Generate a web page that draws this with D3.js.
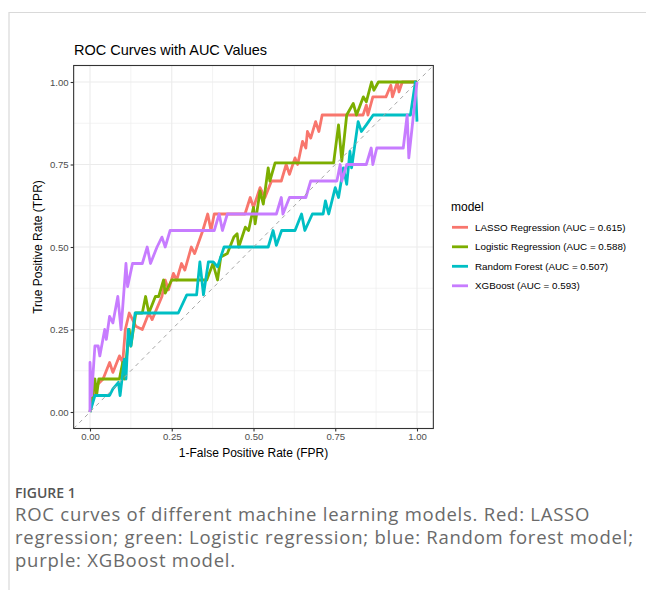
<!DOCTYPE html>
<html>
<head>
<meta charset="utf-8">
<script src="https://cdn.jsdelivr.net/npm/d3@7"></script>
<style>
body { margin: 0; background: #fff; }
svg { display: block; }
</style>
</head>
<body>
<div id="chart"></div>
<script>
// legend labels and colours (ggplot default hues)
var models = ["LASSO Regression (AUC = 0.615)", "Logistic Regression (AUC = 0.588)",
              "Random Forest (AUC = 0.507)", "XGBoost (AUC = 0.593)"];
var colors = ["#F8766D", "#7CAE00", "#00BFC4", "#C77CFF"];

var ticks = [0, 0.25, 0.5, 0.75, 1];
var minorTicks = [0.125, 0.375, 0.625, 0.875];

// [fpr, tpr] points, in plotting order
var lasso = [[0,0],[0.02,0.08],[0.04,0.1],[0.06,0.15],[0.07,0.12],[0.09,0.17],[0.1,0.15],[0.108,0.25],
  [0.12,0.3],[0.14,0.26],[0.16,0.25],[0.18,0.3],[0.19,0.28],[0.22,0.35],[0.23,0.4],[0.24,0.37],
  [0.255,0.42],[0.265,0.4],[0.28,0.45],[0.29,0.43],[0.31,0.5],[0.32,0.48],[0.345,0.55],[0.36,0.6],
  [0.37,0.55],[0.38,0.6],[0.474,0.6],[0.49,0.65],[0.5,0.62],[0.52,0.68],[0.535,0.65],[0.555,0.7],
  [0.585,0.7],[0.6,0.75],[0.61,0.72],[0.627,0.77],[0.635,0.75],[0.65,0.82],[0.66,0.8],[0.665,0.85],
  [0.675,0.83],[0.69,0.88],[0.7,0.85],[0.71,0.9],[0.835,0.9],[0.845,0.93],[0.85,0.9],[0.865,0.955],
  [0.905,0.955],[0.92,0.99],[0.925,0.955],[0.94,1],[0.945,0.97],[0.955,1],[1,1]];

var logistic = [[0,0],[0.015,0.1],[0.02,0.05],[0.027,0.1],[0.09,0.1],[0.1,0.15],[0.105,0.1],
  [0.12,0.25],[0.125,0.2],[0.14,0.3],[0.16,0.3],[0.17,0.35],[0.18,0.3],[0.2,0.35],[0.21,0.35],
  [0.225,0.4],[0.23,0.36],[0.25,0.4],[0.357,0.4],[0.376,0.45],[0.39,0.4],[0.4,0.47],[0.42,0.48],
  [0.44,0.53],[0.45,0.54],[0.455,0.5],[0.475,0.56],[0.485,0.55],[0.5,0.62],[0.505,0.57],
  [0.52,0.67],[0.53,0.63],[0.545,0.74],[0.55,0.7],[0.566,0.755],[0.745,0.755],[0.76,0.87],
  [0.77,0.76],[0.785,0.9],[0.805,0.935],[0.815,0.9],[0.836,0.955],[0.845,0.94],[0.861,1],
  [0.868,0.975],[0.882,1],[1,1]];

var forest = [[0,0],[0.015,0.05],[0.06,0.05],[0.07,0.07],[0.087,0.09],[0.092,0.05],[0.105,0.16],
  [0.11,0.1],[0.117,0.25],[0.125,0.2],[0.138,0.3],[0.27,0.3],[0.296,0.355],[0.326,0.355],
  [0.336,0.455],[0.347,0.355],[0.362,0.455],[0.377,0.455],[0.39,0.44],[0.41,0.5],[0.545,0.5],
  [0.56,0.55],[0.57,0.505],[0.586,0.55],[0.627,0.55],[0.647,0.6],[0.657,0.55],[0.68,0.6],
  [0.713,0.6],[0.72,0.64],[0.73,0.6],[0.75,0.68],[0.76,0.65],[0.775,0.74],[0.785,0.69],
  [0.795,0.79],[0.8,0.74],[0.82,0.88],[0.83,0.85],[0.845,0.87],[0.866,0.9],[0.98,0.9],
  [0.995,1],[1,0.88]];

var xgboost = [[0,0],[0,0.15],[0.005,0.05],[0.015,0.2],[0.025,0.2],[0.03,0.17],[0.045,0.25],
  [0.05,0.22],[0.06,0.29],[0.07,0.27],[0.085,0.35],[0.095,0.25],[0.11,0.45],[0.115,0.38],
  [0.13,0.45],[0.16,0.45],[0.175,0.5],[0.185,0.45],[0.205,0.5],[0.22,0.53],[0.23,0.5],
  [0.245,0.55],[0.38,0.55],[0.395,0.6],[0.405,0.55],[0.42,0.6],[0.57,0.6],[0.585,0.65],
  [0.59,0.6],[0.61,0.65],[0.66,0.65],[0.675,0.7],[0.755,0.7],[0.765,0.75],[0.77,0.7],
  [0.785,0.75],[0.845,0.75],[0.86,0.8],[0.865,0.75],[0.877,0.8],[0.958,0.8],[0.97,0.9],
  [0.975,0.77],[1,1]];

var curves = [lasso, logistic, forest, xgboost];

var width = 646, height = 590;
var svg = d3.select("#chart").append("svg")
    .attr("width", width)
    .attr("height", height)
    .style("font-family", "'Liberation Sans', Arial, sans-serif");

svg.append("rect").attr("width", width).attr("height", height).attr("fill", "#fff");

// card border
svg.append("path")
    .attr("d", "M9,590 V12.5 H646")
    .attr("fill", "none")
    .attr("stroke", "#d9d9d9")
    .attr("stroke-width", 1.2);

var x = d3.scaleLinear().domain([-0.05, 1.05]).range([73.65, 433.35]);
var y = d3.scaleLinear().domain([-0.05, 1.05]).range([428.5, 65.5]);

var panel = svg.append("g");

// grid
panel.selectAll(".minx").data(minorTicks).enter().append("line")
    .attr("x1", function(d) { return x(d); }).attr("x2", function(d) { return x(d); })
    .attr("y1", y(-0.05)).attr("y2", y(1.05))
    .attr("stroke", "#ebebeb").attr("stroke-width", 0.6);
panel.selectAll(".miny").data(minorTicks).enter().append("line")
    .attr("y1", function(d) { return y(d); }).attr("y2", function(d) { return y(d); })
    .attr("x1", x(-0.05)).attr("x2", x(1.05))
    .attr("stroke", "#ebebeb").attr("stroke-width", 0.6);
panel.selectAll(".majx").data(ticks).enter().append("line")
    .attr("x1", function(d) { return x(d); }).attr("x2", function(d) { return x(d); })
    .attr("y1", y(-0.05)).attr("y2", y(1.05))
    .attr("stroke", "#ebebeb").attr("stroke-width", 1.1);
panel.selectAll(".majy").data(ticks).enter().append("line")
    .attr("y1", function(d) { return y(d); }).attr("y2", function(d) { return y(d); })
    .attr("x1", x(-0.05)).attr("x2", x(1.05))
    .attr("stroke", "#ebebeb").attr("stroke-width", 1.1);

var line = d3.line()
    .x(function(d) { return x(d[0]); })
    .y(function(d) { return y(d[1]); });

panel.selectAll(".curve").data(curves).enter().append("path")
    .attr("d", line)
    .attr("fill", "none")
    .attr("stroke", function(d, i) { return colors[i]; })
    .attr("stroke-width", 2.8)
    .attr("stroke-linejoin", "round");

// reference diagonal
panel.append("path")
    .attr("d", line([[-0.05, -0.05], [1.05, 1.05]]))
    .attr("fill", "none")
    .attr("stroke", "#a6a6a6")
    .attr("stroke-width", 1)
    .attr("stroke-dasharray", "4,4");

panel.append("rect")
    .attr("x", x(-0.05)).attr("y", y(1.05))
    .attr("width", x(1.05) - x(-0.05)).attr("height", y(-0.05) - y(1.05))
    .attr("fill", "none").attr("stroke", "#333").attr("stroke-width", 1.1);

// axes
var fmt = d3.format(".2f");
var yAxis = svg.append("g")
    .attr("transform", "translate(" + x(-0.05) + ",0)")
    .call(d3.axisLeft(y).tickValues(ticks).tickFormat(fmt).tickSize(3).tickPadding(2));
var xAxis = svg.append("g")
    .attr("transform", "translate(0," + y(-0.05) + ")")
    .call(d3.axisBottom(x).tickValues(ticks).tickFormat(fmt).tickSize(3).tickPadding(2));
[xAxis, yAxis].forEach(function(a) {
    a.select(".domain").remove();
    a.selectAll(".tick line").attr("stroke", "#333").attr("stroke-width", 1.1);
    a.selectAll(".tick text").attr("fill", "#4d4d4d")
        .style("font-size", "9.6px").style("font-family", "'Liberation Sans', Arial, sans-serif");
});

svg.append("text")
    .attr("x", 74).attr("y", 55)
    .style("font-size", "14.5px")
    .text("ROC Curves with AUC Values");

svg.append("text")
    .attr("x", 253.5).attr("y", 457)
    .attr("text-anchor", "middle")
    .style("font-size", "12px")
    .text("1-False Positive Rate (FPR)");

svg.append("text")
    .attr("transform", "translate(42,247) rotate(-90)")
    .attr("text-anchor", "middle")
    .style("font-size", "12px")
    .text("True Positive Rate (TPR)");

// legend
var legend = svg.append("g");
legend.append("text")
    .attr("x", 451).attr("y", 211)
    .style("font-size", "12px")
    .text("model");
var item = legend.selectAll(".item").data(models).enter().append("g")
    .attr("transform", function(d, i) { return "translate(0," + (227.3 + i * 19.5) + ")"; });
item.append("line")
    .attr("x1", 452).attr("x2", 468)
    .attr("stroke", function(d, i) { return colors[i]; })
    .attr("stroke-width", 2.8);
item.append("text")
    .attr("x", 475).attr("y", 0)
    .attr("dy", "0.35em")
    .style("font-size", "9.8px")
    .text(function(d) { return d; });

// caption
var caption = ["ROC curves of different machine learning models. Red: LASSO",
               "regression; green: Logistic regression; blue: Random forest model;",
               "purple: XGBoost model."];
svg.append("text")
    .attr("x", 15).attr("y", 498)
    .style("font-family", "'Open Sans', sans-serif")
    .style("font-size", "14px")
    .style("font-weight", 600)
    .attr("fill", "#555")
    .text("FIGURE 1");
svg.selectAll(".cap").data(caption).enter().append("text")
    .attr("x", 15)
    .attr("y", function(d, i) { return 521 + i * 23; })
    .style("font-family", "'Open Sans', sans-serif")
    .style("font-size", "18.5px")
    .style("letter-spacing", "0.75px")
    .attr("fill", "#6a6a6a")
    .text(function(d) { return d; });
</script>
</body>
</html>
